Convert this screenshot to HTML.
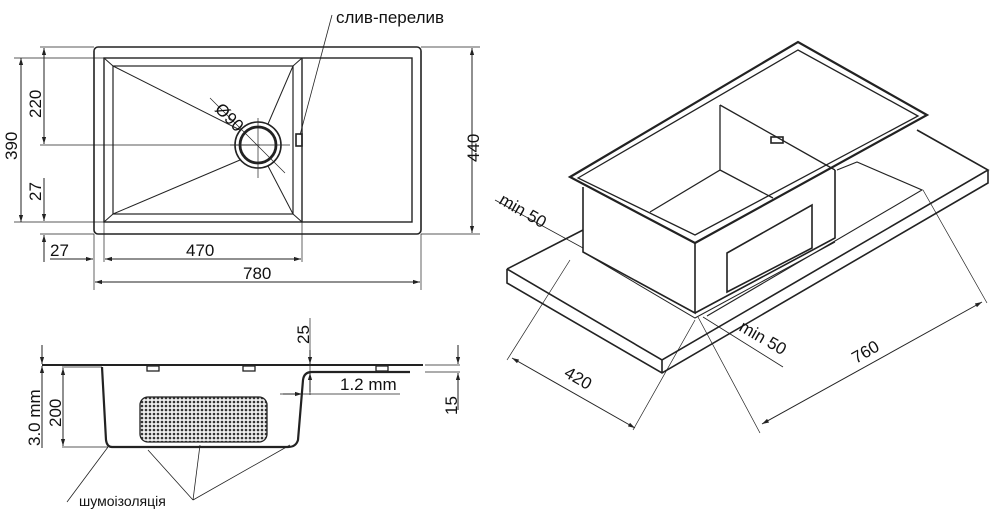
<!DOCTYPE html>
<html><head><meta charset="utf-8"><style>
html,body{margin:0;padding:0;background:#fff}
svg{display:block}
text{font-family:"Liberation Sans","DejaVu Sans",sans-serif;fill:#111}
</style></head><body>
<svg width="1000" height="515" viewBox="0 0 1000 515" xmlns="http://www.w3.org/2000/svg">
<defs>
<marker id="a" viewBox="0 0 10 10" refX="10" refY="5" markerWidth="7" markerHeight="7" orient="auto-start-reverse"><path d="M0,2L10,5L0,8z" fill="#222"/></marker>
<pattern id="h" width="4" height="4" patternUnits="userSpaceOnUse"><rect width="4" height="4" fill="#eee"/><circle cx="2" cy="2" r="1.3" fill="#333"/></pattern>
</defs>
<g fill="none" stroke="#222" stroke-width="1">
<!-- TOP VIEW -->
<rect x="94" y="47" width="327" height="187" rx="4" stroke-width="1.6"/>
<rect x="104" y="58" width="308" height="164" stroke-width="1.4"/>
<line x1="302" y1="58" x2="302" y2="222" stroke-width="1.4"/>
<rect x="113" y="66" width="180" height="148" stroke-width="1.2"/>
<path d="M104 58L113 66M302 58L293 66M104 222L113 214M302 222L293 214"/>
<path d="M113 66L240 130M113 214L240 160M293 66L268 124M293 214L268 166"/>
<circle cx="258" cy="145" r="23" stroke-width="1.6"/>
<circle cx="258" cy="145" r="18" stroke-width="2.8"/>
<path d="M210 98L285 173M258 118V178M230 145H290" stroke-width="0.7"/>
<rect x="296" y="134" width="6" height="12" stroke-width="1.6"/>
<path d="M332 15L300 135" stroke-width="0.8"/>
<path d="M14 58H104M14 222H104M40 47H94M40 145H260M40 234H94M94 234V290M104 222V262M302 222V262M421 234V290M421 47H480M421 234H480" stroke-width="0.7"/>
<line x1="21" y1="58" x2="21" y2="222" marker-start="url(#a)" marker-end="url(#a)"/>
<line x1="44" y1="48" x2="44" y2="144" marker-start="url(#a)" marker-end="url(#a)"/>
<line x1="44" y1="178" x2="44" y2="221" marker-end="url(#a)"/>
<line x1="44" y1="262" x2="44" y2="235" marker-end="url(#a)"/>
<line x1="472" y1="48" x2="472" y2="233" marker-start="url(#a)" marker-end="url(#a)"/>
<line x1="50" y1="259" x2="93" y2="259" marker-end="url(#a)"/>
<line x1="105" y1="259" x2="301" y2="259" marker-start="url(#a)" marker-end="url(#a)"/>
<line x1="95" y1="282" x2="420" y2="282" marker-start="url(#a)" marker-end="url(#a)"/>
<!-- SIDE VIEW -->
<path d="M42 365H423" stroke-width="2"/>
<path d="M410 372H312Q304 372 303 380L298 440Q296 447 288 447H112Q107 447 106 440L102 367" stroke-width="2.2"/>
<rect x="140" y="397" width="127" height="45" rx="8" fill="url(#h)" stroke-width="1.3"/>
<rect x="147" y="366" width="12" height="5" stroke-width="1.3"/>
<rect x="243" y="366" width="12" height="5" stroke-width="1.3"/>
<rect x="376" y="366" width="12" height="5" stroke-width="1.3"/>
<path d="M62 367H102M62 447H108M310 318V395M280 394H400M425 372H460M425 365H460" stroke-width="0.7"/>
<line x1="42" y1="345" x2="42" y2="364" marker-end="url(#a)"/>
<line x1="42" y1="448" x2="42" y2="366" marker-end="url(#a)"/>
<line x1="63" y1="368" x2="63" y2="446" marker-start="url(#a)" marker-end="url(#a)"/>
<line x1="310" y1="350" x2="310" y2="364" marker-end="url(#a)"/>
<line x1="310" y1="392" x2="310" y2="373" marker-end="url(#a)"/>
<line x1="283" y1="394" x2="302" y2="394" marker-end="url(#a)"/>
<line x1="458" y1="345" x2="458" y2="364" marker-end="url(#a)"/>
<line x1="458" y1="410" x2="458" y2="373" marker-end="url(#a)"/>
<path d="M67 502L108 447M193 500L148 450M193 500L200 445M193 500L290 445" stroke-width="0.8"/>
<!-- ISO VIEW -->
<path d="M507 269L583 230M507 269L662 360L988 170L917 130M507 269V283L662 373L988 183V170M662 360V373" stroke-width="1.6"/>
<path d="M837 170L857 162L922 190L707 316" stroke-width="1.1"/>
<path d="M570 177L798 42L927 115L695 243Z" stroke-width="2.2" fill="#fff"/>
<path d="M578 178L798 50L918 116L695 235Z" stroke-width="1.3"/>
<path d="M583 187V252L695 313V243M695 313L835 238V170M727 253L812 205V248L727 292Z" stroke-width="1.6"/>
<path d="M720 105V170L650 212M720 170L773 198M720 105L835 170" stroke-width="1.3"/>
<path d="M583 252L695 318L835 242" stroke-width="1"/>
<rect x="771" y="137" width="12" height="6" stroke-width="1.6"/>
<path d="M570 260L507 360M695 320L633 430M698 317L760 433M923 190L987 303" stroke-width="0.7"/>
<path d="M495 200L583 248M703 317L783 367" stroke-width="0.8"/>
<line x1="512" y1="358" x2="635" y2="428" marker-start="url(#a)" marker-end="url(#a)"/>
<line x1="762" y1="424" x2="982" y2="302" marker-start="url(#a)" marker-end="url(#a)"/>
</g>
<g font-size="17">
<text x="336" y="23">слив-перелив</text>
<text x="214" y="110" transform="rotate(45 214 110)">Ø90</text>
<text transform="translate(17 160) rotate(-90)">390</text>
<text transform="translate(41 118) rotate(-90)">220</text>
<text transform="translate(41 201) rotate(-90)">27</text>
<text transform="translate(479 162) rotate(-90)">440</text>
<text x="50" y="256">27</text>
<text x="186" y="256">470</text>
<text x="243" y="279">780</text>
<text transform="translate(40 446) rotate(-90)">3.0 mm</text>
<text transform="translate(61 427) rotate(-90)">200</text>
<text transform="translate(309 344) rotate(-90)">25</text>
<text x="340" y="390">1.2 mm</text>
<text transform="translate(457 415) rotate(-90)">15</text>
<text x="498" y="203" transform="rotate(30 498 203)">min 50</text>
<text x="738" y="330" transform="rotate(30 738 330)">min 50</text>
<text x="563" y="376" transform="rotate(30 563 376)">420</text>
<text x="856" y="364" transform="rotate(-30 856 364)">760</text>
</g>
<text x="79" y="506" font-size="14">шумоізоляція</text>
</svg>
</body></html>
